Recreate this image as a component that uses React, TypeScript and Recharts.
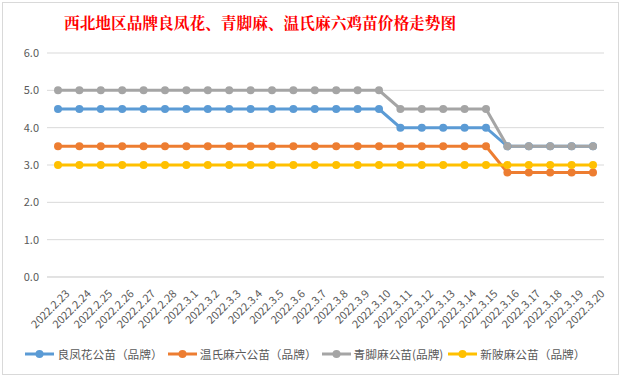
import React from "react"
import { CartesianGrid, Legend, Line, LineChart, XAxis, YAxis } from "recharts"

const dates = [
  "2022.2.23", "2022.2.24", "2022.2.25", "2022.2.26", "2022.2.27", "2022.2.28",
  "2022.3.1", "2022.3.2", "2022.3.3", "2022.3.4", "2022.3.5", "2022.3.6",
  "2022.3.7", "2022.3.8", "2022.3.9", "2022.3.10", "2022.3.11", "2022.3.12",
  "2022.3.13", "2022.3.14", "2022.3.15", "2022.3.16", "2022.3.17", "2022.3.18",
  "2022.3.19", "2022.3.20",
]

const liangfenghua = [
  4.5, 4.5, 4.5, 4.5, 4.5, 4.5, 4.5, 4.5, 4.5, 4.5, 4.5, 4.5, 4.5, 4.5, 4.5, 4.5,
  4.0, 4.0, 4.0, 4.0, 4.0, 3.5, 3.5, 3.5, 3.5, 3.5,
]
const wenshi = [
  3.5, 3.5, 3.5, 3.5, 3.5, 3.5, 3.5, 3.5, 3.5, 3.5, 3.5, 3.5, 3.5, 3.5, 3.5, 3.5,
  3.5, 3.5, 3.5, 3.5, 3.5, 2.8, 2.8, 2.8, 2.8, 2.8,
]
const qingjiao = [
  5.0, 5.0, 5.0, 5.0, 5.0, 5.0, 5.0, 5.0, 5.0, 5.0, 5.0, 5.0, 5.0, 5.0, 5.0, 5.0,
  4.5, 4.5, 4.5, 4.5, 4.5, 3.5, 3.5, 3.5, 3.5, 3.5,
]
const xinpi = [
  3.0, 3.0, 3.0, 3.0, 3.0, 3.0, 3.0, 3.0, 3.0, 3.0, 3.0, 3.0, 3.0, 3.0, 3.0, 3.0,
  3.0, 3.0, 3.0, 3.0, 3.0, 3.0, 3.0, 3.0, 3.0, 3.0,
]

const yTicks = [0, 1, 2, 3, 4, 5, 6]

const series = [
  { key: "lfh", name: "良凤花公苗（品牌）", color: "#5B9BD5", values: liangfenghua },
  { key: "ws", name: "温氏麻六公苗（品牌）", color: "#ED7D31", values: wenshi },
  { key: "qj", name: "青脚麻公苗(品牌)", color: "#A5A5A5", values: qingjiao },
  { key: "xp", name: "新陂麻公苗（品牌）", color: "#FFC000", values: xinpi },
]

const chartData = dates.map((date, i) => {
  const row: Record<string, string | number> = { date }
  series.forEach((s) => {
    row[s.key] = s.values[i]
  })
  return row
})

const font = "'Microsoft YaHei', 'Noto Sans CJK SC', sans-serif"

function DateTick({ x, y, payload }: any) {
  return (
    <text
      x={x + 5}
      y={y + 2}
      transform={`rotate(-45, ${x + 5}, ${y + 2})`}
      textAnchor="end"
      dominantBaseline="hanging"
      fontSize={11}
      fill="#595959"
      fontFamily={font}
    >
      {payload.value}
    </text>
  )
}

function LegendContent() {
  return (
    <div
      style={{
        display: "flex",
        justifyContent: "center",
        gap: 5,
        fontFamily: font,
        fontSize: 11.7,
        color: "#595959",
      }}
    >
      {series.map((s) => (
        <div key={s.key} style={{ display: "flex", alignItems: "center" }}>
          <svg width={29} height={10} style={{ marginRight: 3 }}>
            <line x1={0} y1={5} x2={29} y2={5} stroke={s.color} strokeWidth={3} />
            <circle cx={14.5} cy={5} r={4} fill={s.color} />
          </svg>
          <span>{s.name}</span>
        </div>
      ))}
    </div>
  )
}

export default function App() {
  return (
    <div
      style={{
        position: "absolute",
        left: 0,
        top: 0,
        width: 622,
        height: 378,
        background: "#fff",
      }}
    >
      <div
        style={{
          position: "absolute",
          left: 2,
          top: 2,
          width: 615,
          height: 371,
          border: "1px solid #d9d9d9",
          background: "#fff",
        }}
      >
        <div
          style={{
            position: "absolute",
            left: 61,
            top: 9,
            fontFamily: "'Noto Serif CJK SC', 'Noto Sans CJK SC', serif",
            fontSize: 15.7,
            fontWeight: 700,
            color: "#FF0000",
            whiteSpace: "nowrap",
            lineHeight: "20px",
          }}
        >
          西北地区品牌良凤花、青脚麻、温氏麻六鸡苗价格走势图
        </div>
        <LineChart
          width={615}
          height={371}
          data={chartData}
          margin={{ top: 50, right: 14, left: 4, bottom: 3 }}
        >
          <CartesianGrid vertical={false} stroke="#d9d9d9" />
          <XAxis
            dataKey="date"
            interval={0}
            height={68}
            padding={{ left: 11, right: 11 }}
            tick={<DateTick />}
            tickLine={false}
            axisLine={{ stroke: "#d9d9d9" }}
          />
          <YAxis
            width={40}
            domain={[0, 6]}
            ticks={yTicks}
            tickFormatter={(v: number) => v.toFixed(1)}
            tick={{ fontSize: 11, fill: "#595959", fontFamily: font }}
            tickLine={false}
            axisLine={false}
          />
          <Legend verticalAlign="bottom" height={26} content={<LegendContent />} />
          {series.map((s) => (
            <Line
              key={s.key}
              dataKey={s.key}
              name={s.name}
              stroke={s.color}
              strokeWidth={3}
              dot={{ r: 4, fill: s.color, stroke: s.color, strokeWidth: 0 }}
              activeDot={false}
              isAnimationActive={false}
            />
          ))}
        </LineChart>
      </div>
    </div>
  )
}
